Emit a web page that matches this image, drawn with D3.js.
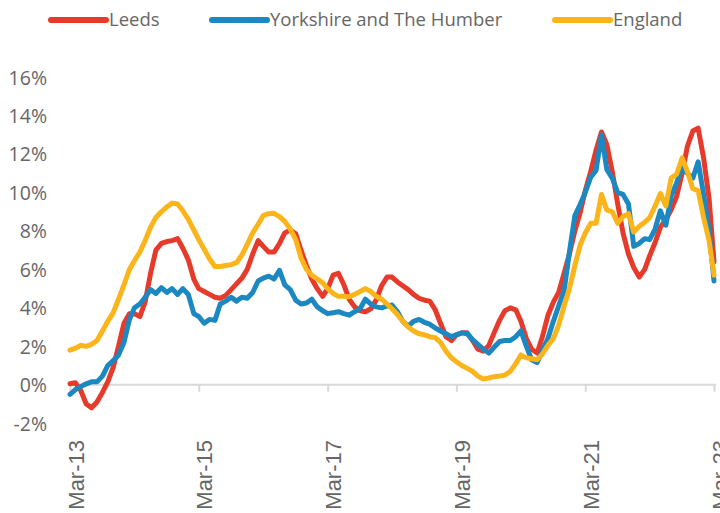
<!DOCTYPE html>
<html>
<head>
<meta charset="utf-8">
<script src="https://cdn.jsdelivr.net/npm/d3@7"></script>
<style>
  html, body { margin: 0; padding: 0; background: #ffffff; }
  svg { display: block; }
</style>
</head>
<body>
<svg id="chart" width="720" height="513"></svg>
<script>
// ---- Data (monthly, Mar-2013 .. Mar-2023), annual % change ----
const seriesNames = ["Leeds", "Yorkshire and The Humber", "England"];
const seriesColors = ["#E63A2B", "#1B88C1", "#FBB41A"];

const leeds = [
  0.05, 0.1, -0.3, -1.0, -1.2, -0.9, -0.4, 0.15, 0.9, 2.0,
  3.2, 3.7, 3.7, 3.55, 4.3, 5.8, 7.0, 7.35, 7.45, 7.5,
  7.6, 7.1, 6.5, 5.5, 5.0, 4.85, 4.7, 4.55, 4.5, 4.65,
  4.95, 5.25, 5.55, 6.0, 6.8, 7.5, 7.2, 6.9, 6.9, 7.35,
  7.9, 8.05, 7.85, 7.0, 6.2, 5.5, 5.0, 4.6, 5.0, 5.7,
  5.8, 5.2, 4.45, 4.05, 3.85, 3.8, 3.95, 4.4, 5.15, 5.6,
  5.6, 5.35, 5.15, 4.95, 4.7, 4.5, 4.4, 4.35, 3.9, 3.2,
  2.5, 2.3, 2.6, 2.7, 2.7, 2.3, 1.85, 1.75, 2.05, 2.7,
  3.35, 3.85, 4.0, 3.9, 3.3, 2.4, 1.85, 1.65, 2.5, 3.6,
  4.3, 4.8, 5.8, 6.8, 8.0, 9.0, 10.1, 11.1, 12.2, 13.15,
  12.5, 11.1, 9.4, 7.9, 6.8, 6.1, 5.6, 6.0, 6.7, 7.4,
  8.2, 8.6, 9.1, 9.8, 11.0, 12.4, 13.2, 13.35, 11.8, 9.7,
  6.4
];

const yorkshire = [
  -0.5, -0.25, -0.1, 0.05, 0.15, 0.15, 0.45, 1.0, 1.25, 1.55,
  2.2, 3.4, 4.0, 4.2, 4.55, 4.95, 4.75, 5.05, 4.8, 5.0,
  4.7, 5.0, 4.7, 3.7, 3.55, 3.2, 3.4, 3.35, 4.2, 4.35,
  4.55, 4.35, 4.55, 4.5, 4.8, 5.4, 5.55, 5.65, 5.5, 5.95,
  5.2, 4.95, 4.4, 4.2, 4.25, 4.45, 4.05, 3.85, 3.7, 3.75,
  3.8, 3.7, 3.62, 3.8, 3.95, 4.45, 4.2, 4.05, 4.0, 4.1,
  4.15, 3.8, 3.3, 3.05, 3.3, 3.4, 3.25, 3.15, 2.95, 2.8,
  2.65, 2.5, 2.6, 2.7, 2.65, 2.35, 2.1, 1.85, 1.65, 1.95,
  2.25, 2.3, 2.3, 2.5, 2.8, 2.0, 1.3, 1.15, 1.8, 2.4,
  3.3, 4.1, 4.9, 6.9, 8.8, 9.4, 10.0, 10.8, 11.15, 13.0,
  11.2, 10.75, 10.0, 9.9, 9.4, 7.2, 7.35, 7.6, 7.55, 8.1,
  9.05, 8.3, 9.8, 10.5, 11.3, 11.0, 10.75, 11.6, 9.9, 8.0,
  5.4
];

const england = [
  1.8, 1.9, 2.05, 2.0, 2.1, 2.3, 2.8, 3.3, 3.75, 4.45,
  5.2, 6.0, 6.45, 6.9, 7.5, 8.2, 8.7, 9.0, 9.25, 9.45,
  9.4, 9.05, 8.6, 8.05, 7.55, 7.05, 6.55, 6.15, 6.15, 6.2,
  6.25, 6.35, 6.75, 7.3, 7.9, 8.35, 8.8, 8.9, 8.92, 8.75,
  8.5, 8.1, 7.55, 6.6, 6.0, 5.7, 5.5, 5.3, 5.0, 4.75,
  4.6, 4.6, 4.58, 4.7, 4.85, 5.0, 4.85, 4.6, 4.45, 4.2,
  3.95, 3.65, 3.3, 3.0, 2.8, 2.65, 2.6, 2.5, 2.45, 2.2,
  1.75, 1.4, 1.2, 1.0, 0.85, 0.7, 0.45, 0.3, 0.35, 0.42,
  0.45, 0.5, 0.7, 1.1, 1.55, 1.4, 1.35, 1.3, 1.6, 2.05,
  2.4, 3.1, 4.1, 5.0, 6.2, 7.3, 7.9, 8.4, 8.4, 9.9,
  9.1, 9.0, 8.4, 8.75, 8.9, 7.95, 8.25, 8.45, 8.7, 9.3,
  9.95, 9.3, 10.75, 10.95, 11.8, 11.1, 10.2, 10.1, 8.7, 7.5,
  5.7
];

const xTickLabels = ["Mar-13", "Mar-15", "Mar-17", "Mar-19", "Mar-21", "Mar-23"];
const yTickValues = [-2, 0, 2, 4, 6, 8, 10, 12, 14, 16];

// ---- Build ----
const startDate = new Date(2013, 2, 1);
const months = d3.range(leeds.length).map(i => d3.timeMonth.offset(startDate, i));
const seriesData = [leeds, yorkshire, england];

const svg = d3.select("#chart");

const x = d3.scaleTime()
  .domain([months[0], months[months.length - 1]])
  .range([70, 714]);

const y = d3.scaleLinear()
  .domain([-2, 16])
  .range([423.2, 77.2]);

const textColor = "#666666";

// y labels (no axis line, no gridlines)
const yAxis = d3.axisLeft(y)
  .tickValues(yTickValues)
  .tickSize(0)
  .tickPadding(0)
  .tickFormat(d => d + "%");

svg.append("g")
  .attr("transform", "translate(47,0)")
  .call(yAxis)
  .call(g => g.select(".domain").remove())
  .call(g => g.selectAll("text")
    .attr("fill", textColor)
    .attr("font-family", "'Open Sans', sans-serif")
    .attr("font-size", "19.5px")
    .attr("dy", "0.35em"));

// x axis at 0%
const xTickDates = xTickLabels.map((_, i) => d3.timeMonth.offset(startDate, i * 24));
const xAxis = d3.axisBottom(x)
  .tickValues(xTickDates)
  .tickSize(7)
  .tickFormat((d, i) => xTickLabels[i]);

const xg = svg.append("g")
  .attr("transform", `translate(0,${y(0)})`)
  .call(xAxis);

xg.select(".domain")
  .attr("stroke", "#d9d9d9")
  .attr("stroke-width", 2)
  .attr("d", `M${x.range()[0]},0H${x.range()[1] + 2}`);
xg.selectAll(".tick line")
  .attr("stroke", "#d9d9d9")
  .attr("stroke-width", 2);
xg.selectAll(".tick text")
  .attr("fill", textColor)
  .attr("font-family", "'Liberation Sans', Arial, sans-serif")
  .attr("font-size", "22px")
  .attr("text-anchor", "end")
  .attr("dy", null)
  .attr("y", 0)
  .attr("transform", `translate(13,${440 - y(0)}) rotate(-90)`);

// lines
const line = d3.line()
  .x((d, i) => x(months[i]))
  .y(d => y(d));

svg.append("g")
  .selectAll("path")
  .data(seriesData)
  .join("path")
  .attr("d", d => line(d))
  .attr("fill", "none")
  .attr("stroke", (d, i) => seriesColors[i])
  .attr("stroke-width", 5)
  .attr("stroke-linejoin", "round")
  .attr("stroke-linecap", "round");

// legend
const legendX = [51, 212, 555];
const legend = svg.append("g");
seriesNames.forEach((name, i) => {
  const g = legend.append("g").attr("transform", `translate(${legendX[i]},20)`);
  g.append("line")
    .attr("x1", 0).attr("x2", 55)
    .attr("y1", 0).attr("y2", 0)
    .attr("stroke", seriesColors[i])
    .attr("stroke-width", 6)
    .attr("stroke-linecap", "round");
  g.append("text")
    .attr("x", 58)
    .attr("y", 0)
    .attr("dy", "0.35em")
    .attr("fill", textColor)
    .attr("font-family", "'Open Sans', sans-serif")
    .attr("font-size", "18.5px")
    .text(name);
});
</script>
</body>
</html>
